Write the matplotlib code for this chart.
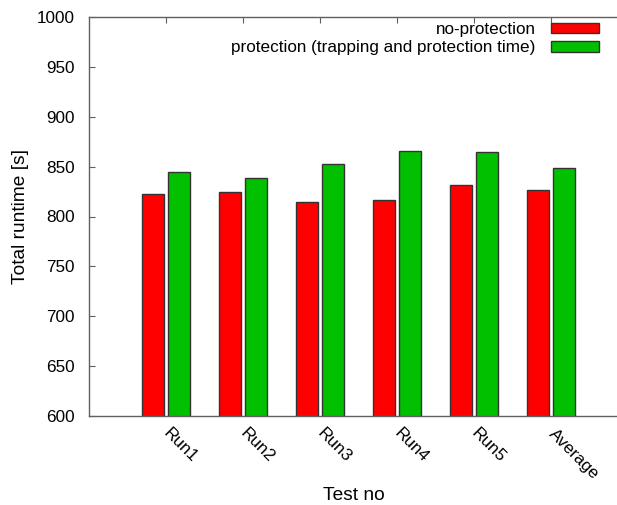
import matplotlib
matplotlib.use('Agg')
import matplotlib.pyplot as plt
import numpy as np

# Data
runs = ['Run1', 'Run2', 'Run3', 'Run4', 'Run5', 'Average']
no_protection = [823, 825, 815, 817, 832, 827]
protection = [845, 839, 853, 866, 865, 849]

plt.rcParams['font.family'] = ['Liberation Sans', 'DejaVu Sans']
plt.rcParams['font.size'] = 12.3

fig = plt.figure(figsize=(6.17, 5.05), dpi=100)
ax = fig.add_axes([89 / 617, 89 / 505, 539 / 617, 399 / 505])

x = np.arange(len(runs))
width = 0.29
off = 0.165
ax.bar(x - off, no_protection, width, color='#ff0000', edgecolor='#333333',
       linewidth=1.0, label='no-protection')
ax.bar(x + off, protection, width, color='#00c000', edgecolor='#333333',
       linewidth=1.0, label='protection (trapping and protection time)')

ax.set_xlim(-1, 6)
ax.set_ylim(600, 1000)
ax.set_yticks(np.arange(600, 1001, 50))
ax.set_xticks(x)
ax.set_xticklabels(runs, rotation=-45, ha='left', va='center',
                   rotation_mode='anchor')

for s in ax.spines.values():
    s.set_color('#606060')
    s.set_linewidth(1.0)
ax.tick_params(axis='y', direction='in', length=4, color='#606060', pad=10)
ax.tick_params(axis='x', direction='in', length=4, color='#606060', pad=11,
               top=True, bottom=False)

ax.set_ylabel('Total runtime [s]', fontsize=13.8, va='center')
ax.yaxis.set_label_coords(-0.127, 0.5)
ax.set_xlabel('Test no', fontsize=13.8, va='center')
ax.xaxis.set_label_coords(0.4917, -0.2)

ax.legend(loc='upper right', bbox_to_anchor=(599 / 617, 1 - 22 / 505),
          bbox_transform=fig.transFigure, frameon=False, markerfirst=False,
          borderpad=0, handlelength=2.8, handleheight=0.55,
          handletextpad=0.9, labelspacing=0.2, borderaxespad=0)

fig.savefig('out.png', dpi=100)
